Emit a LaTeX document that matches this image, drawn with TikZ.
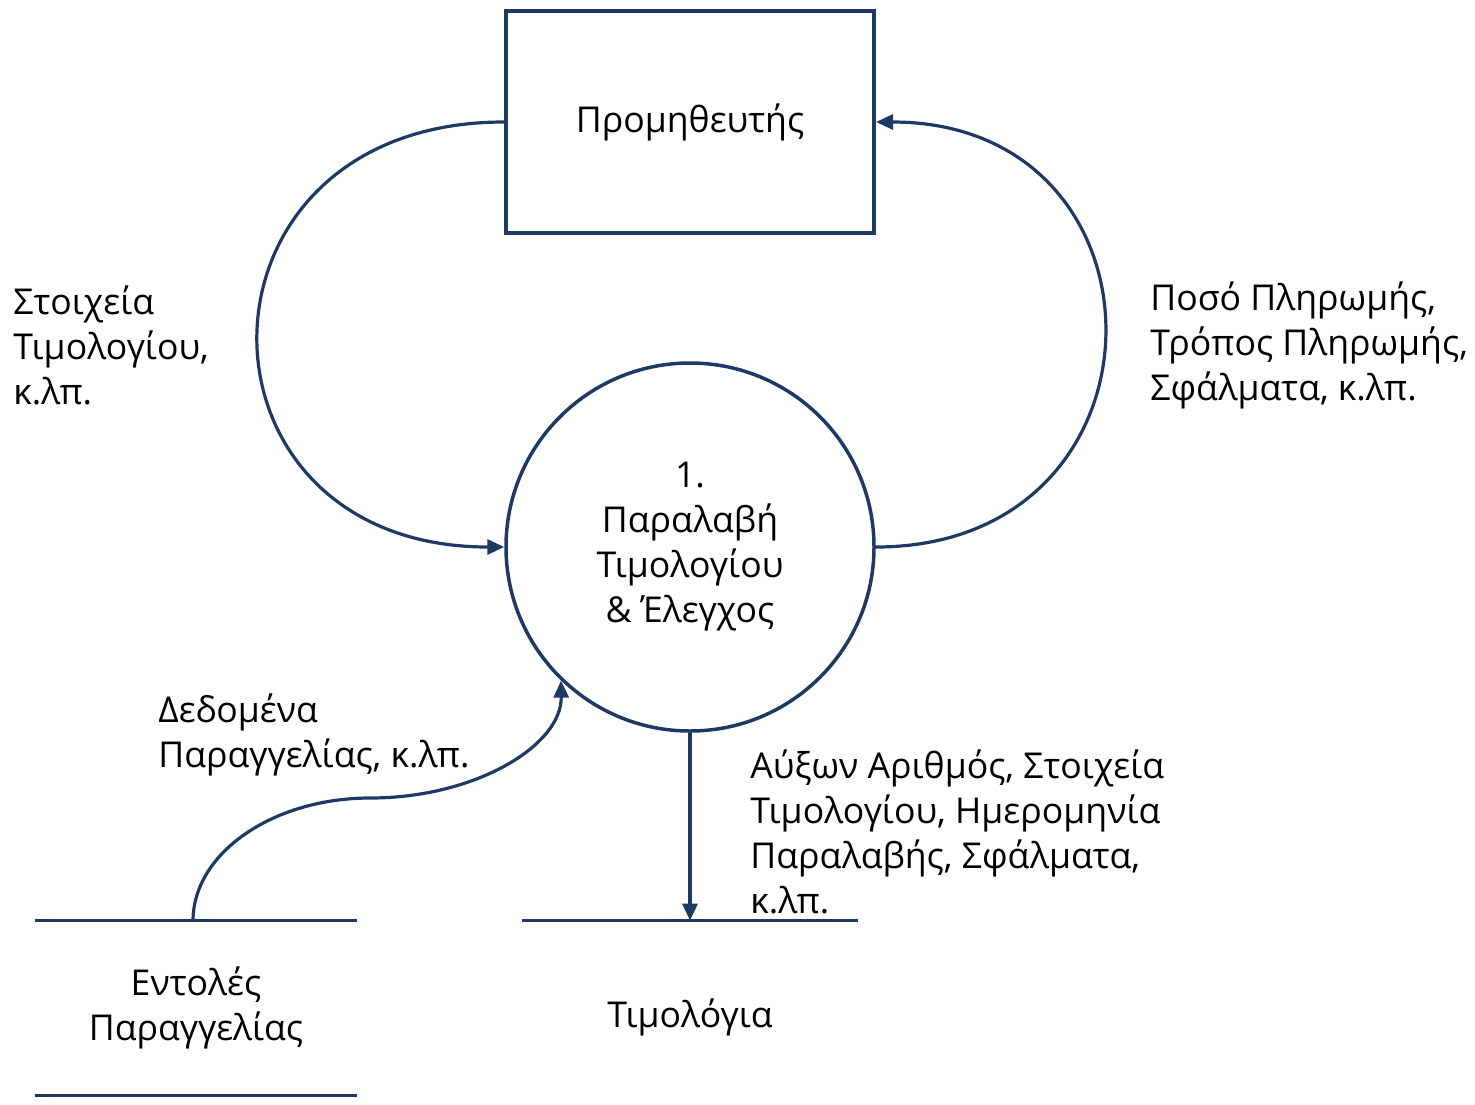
\documentclass[tikz,border=0pt]{standalone}
\usepackage{fontspec}
\setmainfont{Open Sans}
\usetikzlibrary{arrows.meta}
\definecolor{dfdblue}{HTML}{1F3864}

\begin{document}
\begin{tikzpicture}[x=0.5pt,y=-0.5pt,
  every node/.style={font=\fontsize{17.8}{22.5}\selectfont, text=black},
  entity/.style={draw=dfdblue, line width=2pt, rectangle,
    minimum width=184pt, minimum height=111pt, inner sep=0pt},
  process/.style={draw=dfdblue, line width=1.75pt, circle,
    minimum size=184pt, inner sep=0pt, align=center},
  store/.style={rectangle, inner sep=0pt, align=center},
  storeline/.style={draw=dfdblue, line width=1.75pt},
  flow/.style={draw=dfdblue, line width=1.6pt,
    -{Triangle[length=8.5pt,width=7.5pt]}},
  label/.style={align=left, anchor=west, inner sep=0pt}
]
\useasboundingbox (0,0) rectangle (1475,1104);

% external entity and process
\node[entity] (sup) at (690,122) {Προμηθευτής};
\node[process] (proc) at (690,547) {1.\\Παραλαβή\\Τιμολογίου\\\& Έλεγχος};

% data stores
\node[store, minimum width=161pt, minimum height=87pt] (ord) at (196,1008)
  {Εντολές\\Παραγγελίας};
\draw[storeline] (ord.north west) -- (ord.north east);
\draw[storeline] (ord.south west) -- (ord.south east);

\node[store, minimum width=168pt, minimum height=96pt] (inv) at (690,1017)
  {Τιμολόγια};
\draw[storeline] (inv.north west) -- (inv.north east);

% data flows
\draw[flow] (sup.west) .. controls +(-327,0) and +(-327,0) .. (proc.west);
\draw[flow] (proc.east) .. controls +(304,0) and +(304,0) .. (sup.east);

\coordinate (ordtap) at (193,921);
\coordinate (ordmid) at (370,798);
\draw[flow] (ordtap) .. controls (193,853) and (273,798) .. (ordmid)
  .. controls (476,798) and (562,745) .. (proc.-134);

\draw[flow] (proc.south) -- (proc.south |- inv.north);

% flow labels
\node[label] (lsup) at (13,345) {Στοιχεία\\Τιμολογίου,\\κ.λπ.};
\node[label] (lpay) at (1150,345) {Ποσό Πληρωμής,\\Τρόπος Πληρωμής,\\Σφάλματα, κ.λπ.};
\node[label] (lord) at (158,735) {Δεδομένα\\Παραγγελίας, κ.λπ.};
\node[label] (linv) at (750,832) {Αύξων Αριθμός, Στοιχεία\\Τιμολογίου, Ημερομηνία\\Παραλαβής, Σφάλματα,\\κ.λπ.};
\end{tikzpicture}
\end{document}
